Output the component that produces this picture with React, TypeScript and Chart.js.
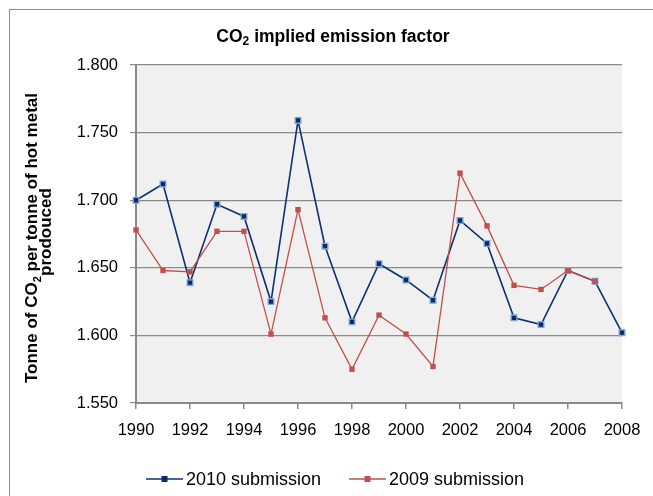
import React, { useEffect, useRef } from "react";
import { Chart, registerables } from "chart.js";

Chart.register(...registerables);

const years = [1990, 1991, 1992, 1993, 1994, 1995, 1996, 1997, 1998, 1999, 2000, 2001, 2002, 2003, 2004, 2005, 2006, 2007, 2008];
const submission2010 = [1.700, 1.712, 1.639, 1.697, 1.688, 1.625, 1.759, 1.666, 1.610, 1.653, 1.641, 1.626, 1.685, 1.668, 1.613, 1.608, 1.648, 1.640, 1.602];
const submission2009 = [1.678, 1.648, 1.647, 1.677, 1.677, 1.601, 1.693, 1.613, 1.575, 1.615, 1.601, 1.577, 1.720, 1.681, 1.637, 1.634, 1.648, 1.640, null];
const seriesNames = ["2010 submission", "2009 submission"];
const titleParts = [{ t: "CO" }, { t: "2", sub: true }, { t: " implied emission factor" }];
const yTitleLine1 = [{ t: "Tonne of CO" }, { t: "2", sub: true }, { t: " per tonne of hot metal" }];
const yTitleLine2 = [{ t: "prodouced" }];

const FONT = "'Liberation Sans', Arial, sans-serif";
const BLUE_LINE = "#10306e";
const BLUE_FILL = "#0b2a66";
const BLUE_EDGE = "#7ea6d8";
const RED = "#c0504d";
const GRID = "#8a8a8a";

type Seg = { t: string; sub?: boolean };

function drawRich(ctx: CanvasRenderingContext2D, segs: Seg[], x: number, y: number, size: number) {
  const big = `bold ${size}px ${FONT}`;
  const small = `bold ${Math.round(size * 0.66)}px ${FONT}`;
  const widths: number[] = [];
  let total = 0;
  for (const s of segs) {
    ctx.font = s.sub ? small : big;
    const w = ctx.measureText(s.t).width;
    widths.push(w);
    total += w;
  }
  let cx = x - total / 2;
  ctx.textAlign = "left";
  ctx.textBaseline = "alphabetic";
  segs.forEach((s, i) => {
    ctx.font = s.sub ? small : big;
    ctx.fillText(s.t, cx, s.sub ? y + size * 0.22 : y);
    cx += widths[i];
  });
}

const decorPlugin = {
  id: "decor",
  beforeDraw(chart: any) {
    const { ctx, chartArea } = chart;
    ctx.save();
    ctx.fillStyle = "#f0f0f0";
    ctx.fillRect(chartArea.left, chartArea.top, chartArea.right - chartArea.left, chartArea.bottom - chartArea.top);
    ctx.restore();
  },
  afterDraw(chart: any) {
    const { ctx } = chart;
    ctx.save();
    ctx.fillStyle = "#000";
    drawRich(ctx, titleParts, 323, 31.5, 17.5);

    ctx.save();
    ctx.translate(27, 0);
    ctx.rotate(-Math.PI / 2);
    // rotated frame: x axis points up (x = -canvasY), y axis points right
    drawRich(ctx, yTitleLine1, -228, 0, 17);
    drawRich(ctx, yTitleLine2, -222, 14, 17);
    ctx.restore();

    // legend
    const ly = 469;
    const items = [
      { x: 136, name: seriesNames[0], line: BLUE_LINE, fill: BLUE_FILL },
      { x: 339, name: seriesNames[1], line: RED, fill: RED },
    ];
    items.forEach((it) => {
      ctx.strokeStyle = it.line;
      ctx.lineWidth = 1.6;
      ctx.beginPath();
      ctx.moveTo(it.x, ly);
      ctx.lineTo(it.x + 37, ly);
      ctx.stroke();
      ctx.fillStyle = it.fill;
      ctx.fillRect(it.x + 15.5, ly - 3, 6, 6);
      ctx.fillStyle = "#000";
      ctx.font = `18px ${FONT}`;
      ctx.textAlign = "left";
      ctx.textBaseline = "middle";
      ctx.fillText(it.name, it.x + 40, ly + 1);
    });
    ctx.restore();
  },
};

export default function App() {
  const ref = useRef<HTMLCanvasElement | null>(null);
  useEffect(() => {
    if (!ref.current) return;
    const chart = new Chart(ref.current, {
      type: "line",
      data: {
        datasets: [
          {
            label: seriesNames[1],
            data: years.map((y, i) => ({ x: y, y: submission2009[i] })) as any,
            borderColor: RED,
            borderWidth: 1.3,
            pointStyle: "rect",
            pointRadius: 3.8,
            pointBackgroundColor: RED,
            pointBorderColor: RED,
            pointBorderWidth: 0,
            tension: 0,
            clip: false as any,
          },
          {
            label: seriesNames[0],
            data: years.map((y, i) => ({ x: y, y: submission2010[i] })) as any,
            borderColor: BLUE_LINE,
            borderWidth: 1.6,
            pointStyle: "rect",
            pointRadius: 4,
            pointBackgroundColor: BLUE_FILL,
            pointBorderColor: BLUE_EDGE,
            pointBorderWidth: 1.3,
            tension: 0,
            clip: false as any,
          },
        ],
      },
      options: {
        responsive: false,
        maintainAspectRatio: false,
        animation: false,
        devicePixelRatio: 1,
        layout: { padding: { left: 0, top: 55, right: 31, bottom: 53 } },
        plugins: { legend: { display: false }, title: { display: false }, tooltip: { enabled: false } },
        events: [],
        scales: {
          x: {
            type: "linear",
            min: 1990,
            max: 2008,
            ticks: {
              stepSize: 2,
              autoSkip: false,
              maxRotation: 0,
              padding: 12,
              color: "#000",
              font: { family: FONT, size: 16.5 },
              callback: (v: any) => String(v),
            },
            grid: { drawOnChartArea: false, drawTicks: true, tickLength: 6, color: GRID, lineWidth: 1.5 },
            border: { display: true, color: GRID, width: 2 },
            afterFit: (s: any) => {
              s.height = 40;
              s.paddingLeft = 0;
              s.paddingRight = 0;
            },
          },
          y: {
            type: "linear",
            min: 1.55,
            max: 1.8,
            ticks: {
              stepSize: 0.05,
              padding: 12,
              color: "#000",
              font: { family: FONT, size: 16.5 },
              callback: (v: any) => Number(v).toFixed(3),
            },
            grid: { color: GRID, lineWidth: 1.2, tickLength: 6 },
            border: { display: true, color: GRID, width: 2 },
            afterFit: (s: any) => {
              s.width = 126;
              s.paddingTop = 0;
              s.paddingBottom = 0;
            },
          },
        },
      },
      plugins: [decorPlugin],
    });
    return () => chart.destroy();
  }, []);

  return (
    <div
      style={{
        position: "fixed",
        left: 9,
        top: 9,
        borderLeft: "1px solid #8c8c8c",
        borderTop: "1px solid #8c8c8c",
        width: 644,
        height: 487,
        background: "#fff",
      }}
    >
      <canvas ref={ref} width={643} height={486} style={{ display: "block" }} />
    </div>
  );
}
